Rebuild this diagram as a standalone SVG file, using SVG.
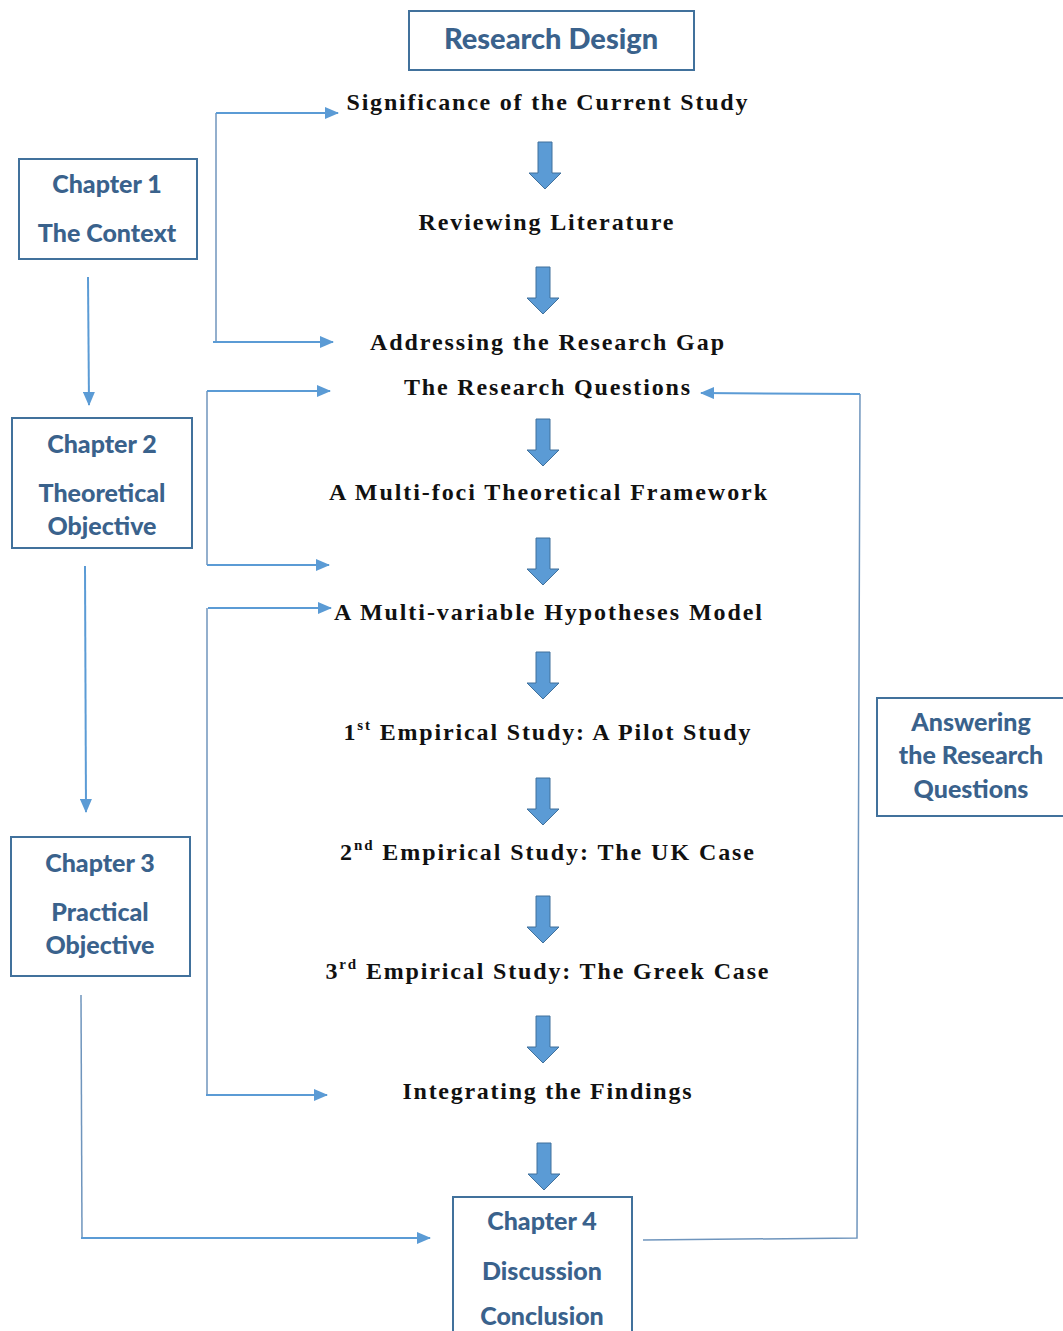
<svg xmlns="http://www.w3.org/2000/svg" width="1063" height="1331" viewBox="0 0 1063 1331">
  <defs>
    <marker id="tip" markerUnits="userSpaceOnUse" markerWidth="14" markerHeight="12" refX="13" refY="6" orient="auto">
      <path d="M0,0 L14,6 L0,12 Z" fill="#5b9bd5"/>
    </marker>
    <!-- block arrow pointing down, origin at top centre -->
    <path id="down" d="M-7,0 H7 V31 H16 L0,47 L-16,31 H-7 Z"/>
    <style>
      .box { fill: #ffffff; stroke: #41719c; stroke-width: 2; }
      .lbl { font-family: Lato, "Open Sans", sans-serif; font-weight: 900; font-size: 25px; fill: #3a628c; text-anchor: middle; }
      .title { font-size: 29px; }
      .step { font-family: "Liberation Serif", "Times New Roman", serif; font-weight: bold; font-size: 24px; fill: #111111; text-anchor: middle; }
      .sup { font-size: 15px; }
      .blk { fill: #5b9bd5; stroke: #41719c; stroke-width: 1; }
      .ln { fill: none; stroke: #5b9bd5; stroke-width: 2; }
      .thin { fill: none; stroke: #6f95bd; stroke-width: 1.5; }
    </style>
  </defs>

  <rect width="1063" height="1331" fill="#ffffff"/>

  <!-- connectors -->
  <g id="connectors">
    <!-- block arrows of the main flow -->
    <use href="#down" class="blk" x="545" y="142"/>
    <use href="#down" class="blk" x="543" y="267"/>
    <use href="#down" class="blk" x="543" y="419"/>
    <use href="#down" class="blk" x="543" y="538"/>
    <use href="#down" class="blk" x="543" y="652"/>
    <use href="#down" class="blk" x="543" y="778"/>
    <use href="#down" class="blk" x="543" y="896"/>
    <use href="#down" class="blk" x="543" y="1016"/>
    <use href="#down" class="blk" x="544" y="1143"/>

    <!-- chapter 1 bracket -->
    <path class="thin" d="M216,113 V342"/>
    <path class="ln" d="M216,113 H338" marker-end="url(#tip)"/>
    <path class="ln" d="M213,342 H333" marker-end="url(#tip)"/>

    <!-- chapter 2 bracket -->
    <path class="thin" d="M207,391 V565"/>
    <path class="ln" d="M207,391 H330" marker-end="url(#tip)"/>
    <path class="ln" d="M207,565 H329" marker-end="url(#tip)"/>

    <!-- chapter 3 bracket -->
    <path class="thin" d="M207,608 V1096"/>
    <path class="ln" d="M208,608 H331" marker-end="url(#tip)"/>
    <path class="ln" d="M206,1095 H327" marker-end="url(#tip)"/>

    <!-- chapter to chapter -->
    <path class="ln" d="M88,277 L89,405" marker-end="url(#tip)"/>
    <path class="ln" d="M85,566 L86,812" marker-end="url(#tip)"/>
    <path class="thin" d="M81,995 L82,1238"/>
    <path class="ln" d="M81,1238 H430" marker-end="url(#tip)"/>

    <!-- feedback to the research questions -->
    <path class="thin" d="M643,1240 L857,1238 L860,394"/>
    <path class="ln" d="M860,394 L701,393" marker-end="url(#tip)"/>
  </g>

  <!-- title -->
  <g id="research-design">
    <rect class="box" x="409" y="11" width="285" height="59"/>
    <text class="lbl title" x="551" y="49">Research Design</text>
  </g>

  <!-- main flow steps -->
  <g id="significance"><text class="step" x="547" y="110" textLength="401" lengthAdjust="spacing">Significance of the Current Study</text></g>
  <g id="reviewing"><text class="step" x="546" y="230" textLength="255" lengthAdjust="spacing">Reviewing Literature</text></g>
  <g id="gap"><text class="step" x="547" y="350" textLength="354" lengthAdjust="spacing">Addressing the Research Gap</text></g>
  <g id="questions"><text class="step" x="547" y="395" textLength="286" lengthAdjust="spacing">The Research Questions</text></g>
  <g id="framework"><text class="step" x="548" y="500" textLength="438" lengthAdjust="spacing">A Multi-foci Theoretical Framework</text></g>
  <g id="model"><text class="step" x="548" y="620" textLength="428" lengthAdjust="spacing">A Multi-variable Hypotheses Model</text></g>
  <g id="study1"><text class="step" x="547" y="740" textLength="407" lengthAdjust="spacing">1<tspan class="sup" dy="-10">st</tspan><tspan dy="10"> Empirical Study: A Pilot Study</tspan></text></g>
  <g id="study2"><text class="step" x="547" y="860" textLength="414" lengthAdjust="spacing">2<tspan class="sup" dy="-10">nd</tspan><tspan dy="10"> Empirical Study: The UK Case</tspan></text></g>
  <g id="study3"><text class="step" x="547" y="979" textLength="443" lengthAdjust="spacing">3<tspan class="sup" dy="-10">rd</tspan><tspan dy="10"> Empirical Study: The Greek Case</tspan></text></g>
  <g id="integrating"><text class="step" x="547" y="1099" textLength="289" lengthAdjust="spacing">Integrating the Findings</text></g>

  <!-- chapter boxes -->
  <g id="chapter1">
    <rect class="box" x="19" y="159" width="178" height="100"/>
    <text class="lbl" x="107" y="193">Chapter 1</text>
    <text class="lbl" x="107" y="242">The Context</text>
  </g>
  <g id="chapter2">
    <rect class="box" x="12" y="418" width="180" height="130"/>
    <text class="lbl" x="102" y="453">Chapter 2</text>
    <text class="lbl" x="102" y="502">Theoretical</text>
    <text class="lbl" x="102" y="535">Objective</text>
  </g>
  <g id="chapter3">
    <rect class="box" x="11" y="837" width="179" height="139"/>
    <text class="lbl" x="100" y="872">Chapter 3</text>
    <text class="lbl" x="100" y="921">Practical</text>
    <text class="lbl" x="100" y="954">Objective</text>
  </g>
  <g id="answering">
    <rect class="box" x="877" y="698" width="200" height="118"/>
    <text class="lbl" x="971" y="731">Answering</text>
    <text class="lbl" x="971" y="764">the Research</text>
    <text class="lbl" x="971" y="798">Questions</text>
  </g>
  <g id="chapter4">
    <rect class="box" x="453" y="1197" width="179" height="150"/>
    <text class="lbl" x="542" y="1230">Chapter 4</text>
    <text class="lbl" x="542" y="1280">Discussion</text>
    <text class="lbl" x="542" y="1325">Conclusion</text>
  </g>
</svg>
